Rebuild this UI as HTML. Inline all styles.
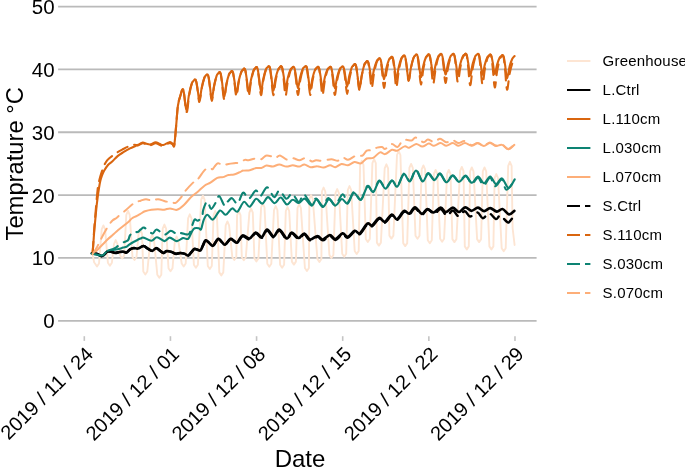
<!DOCTYPE html>
<html><head><meta charset="utf-8"><style>
html,body{margin:0;padding:0;background:#fff;}
body{width:685px;height:467px;overflow:hidden;}
svg{display:block;will-change:transform;font-family:"Liberation Sans", sans-serif;}
</style></head><body>
<svg width="685" height="467" viewBox="0 0 685 467">
<rect width="685" height="467" fill="#fff"/>
<line x1="58.1" x2="536.6" y1="320.80" y2="320.80" stroke="#bababa" stroke-width="1.8"/>
<line x1="58.1" x2="536.6" y1="257.95" y2="257.95" stroke="#bababa" stroke-width="1.8"/>
<line x1="58.1" x2="536.6" y1="195.10" y2="195.10" stroke="#bababa" stroke-width="1.8"/>
<line x1="58.1" x2="536.6" y1="132.25" y2="132.25" stroke="#bababa" stroke-width="1.8"/>
<line x1="58.1" x2="536.6" y1="69.40" y2="69.40" stroke="#bababa" stroke-width="1.8"/>
<line x1="58.1" x2="536.6" y1="6.55" y2="6.55" stroke="#bababa" stroke-width="1.8"/>
<text x="54.6" y="328.25" text-anchor="end" font-size="20.5">0</text>
<text x="54.6" y="265.40" text-anchor="end" font-size="20.5">10</text>
<text x="54.6" y="202.55" text-anchor="end" font-size="20.5">20</text>
<text x="54.6" y="139.70" text-anchor="end" font-size="20.5">30</text>
<text x="54.6" y="76.85" text-anchor="end" font-size="20.5">40</text>
<text x="54.6" y="14.00" text-anchor="end" font-size="20.5">50</text>
<path d="M92.5,254.2 L94.2,262.5 L95.0,263.5 L97.0,266.5 L99.0,263.5 L101.7,229.4 L103.4,225.4 L105.1,229.4 L107.9,262.7 L109.9,265.7 L111.9,262.7 L114.0,244.0 L115.7,240.0 L117.4,244.0 L120.2,255.5 L122.2,258.5 L124.2,255.5 L126.3,214.8 L128.0,210.8 L129.7,214.8 L132.5,257.0 L134.5,260.0 L136.5,257.0 L138.6,233.7 L140.3,229.7 L142.0,233.7 L143.3,271.5 L145.3,274.5 L147.3,271.5 L150.5,238.8 L152.2,234.8 L153.9,238.8 L157.3,274.7 L159.3,277.7 L161.3,274.7 L162.7,228.6 L164.4,224.6 L166.1,228.6 L168.5,268.3 L170.5,271.3 L172.5,268.3 L174.9,240.5 L176.6,236.5 L178.3,240.5 L181.7,263.5 L183.7,266.5 L185.7,263.5 L188.1,218.3 L189.8,214.3 L191.5,218.3 L193.9,264.7 L195.9,267.7 L197.9,264.7 L201.2,199.7 L202.9,195.7 L204.6,199.7 L207.8,266.0 L209.8,269.0 L211.8,266.0 L213.6,215.0 L215.2,211.0 L216.9,215.0 L219.3,272.4 L221.3,275.4 L223.3,272.4 L225.7,225.4 L227.4,221.4 L229.1,225.4 L232.3,257.0 L234.3,260.0 L236.3,257.0 L237.1,215.1 L238.8,211.1 L240.5,215.1 L241.8,257.3 L243.8,260.3 L245.8,257.3 L249.4,212.6 L251.1,208.6 L252.8,212.6 L254.4,258.4 L256.4,261.4 L258.4,258.4 L261.1,207.4 L262.8,203.4 L264.5,207.4 L267.3,263.7 L269.3,266.7 L271.3,263.7 L274.0,210.0 L275.7,206.0 L277.4,210.0 L280.1,264.8 L282.1,267.8 L284.1,264.8 L285.8,211.0 L287.5,207.0 L289.2,211.0 L291.9,261.6 L293.9,264.6 L295.9,261.6 L297.5,208.0 L299.2,204.0 L300.9,208.0 L304.9,268.0 L306.9,271.0 L308.9,268.0 L309.4,199.0 L311.1,195.0 L312.8,199.0 L317.4,259.0 L319.4,262.0 L321.4,259.0 L321.9,191.5 L323.6,187.5 L325.3,191.5 L329.4,255.0 L331.4,258.0 L333.4,255.0 L335.5,193.0 L337.2,189.0 L338.9,193.0 L342.2,253.8 L344.2,256.8 L346.2,253.8 L347.8,190.0 L349.5,186.0 L351.2,190.0 L354.7,251.0 L356.7,254.0 L358.7,251.0 L360.1,164.8 L361.8,160.8 L363.5,164.8 L365.8,239.0 L367.8,242.0 L369.8,239.0 L372.4,163.1 L374.1,159.1 L375.8,163.1 L376.9,242.6 L378.9,245.6 L380.9,242.6 L384.7,168.3 L386.4,164.3 L388.1,168.3 L389.4,235.6 L391.4,238.6 L393.4,235.6 L397.0,155.0 L398.7,151.0 L400.4,155.0 L403.2,243.1 L405.2,246.1 L407.2,243.1 L409.4,167.9 L411.1,163.9 L412.8,167.9 L415.5,235.7 L417.5,238.7 L419.5,235.7 L421.7,169.4 L423.4,165.4 L425.1,169.4 L427.8,240.2 L429.8,243.2 L431.8,240.2 L433.9,173.9 L435.6,169.9 L437.3,173.9 L440.1,238.7 L442.1,241.7 L444.1,238.7 L447.1,173.9 L448.8,169.9 L450.5,173.9 L452.4,239.1 L454.4,242.1 L456.4,239.1 L460.1,170.9 L461.8,166.9 L463.5,170.9 L464.8,246.4 L466.8,249.4 L468.8,246.4 L470.1,171.4 L471.8,167.4 L473.5,171.4 L477.1,239.1 L479.1,242.1 L481.1,239.1 L482.8,171.4 L484.5,167.4 L486.2,171.4 L489.4,246.4 L491.4,249.4 L493.4,246.4 L494.6,178.0 L496.3,174.0 L498.0,178.0 L501.7,248.2 L503.7,251.2 L505.7,248.2 L508.2,165.8 L509.9,161.8 L511.6,165.8 L512.6,228.0 L514.6,245.0" fill="none" stroke="#fde5d3" stroke-width="1.9" stroke-linejoin="round" stroke-linecap="round"/>
<path d="M91.9,253.3C92.7,253.4 95.3,253.4 96.8,253.8C98.3,254.2 99.9,255.8 101.1,256.0C102.3,256.2 102.8,255.8 103.8,255.1C104.8,254.4 106.1,252.2 107.3,251.6C108.5,251.0 109.5,251.4 110.8,251.6C112.1,251.8 113.8,252.8 115.2,252.9C116.7,253.0 118.2,252.2 119.5,252.0C120.8,251.8 121.8,251.5 123.0,251.6C124.2,251.7 125.3,252.9 126.5,252.5C127.7,252.1 128.8,250.1 130.0,249.4C131.2,248.7 132.2,248.2 133.5,248.1C134.8,247.9 136.2,248.8 137.9,248.5C139.6,248.2 141.8,245.9 143.5,246.0C145.2,246.1 146.5,248.0 148.0,248.8C149.5,249.6 150.9,250.9 152.3,250.8C153.7,250.7 154.9,248.1 156.2,248.1C157.5,248.1 158.9,250.0 160.1,250.8C161.3,251.6 162.6,252.9 163.6,253.0C164.6,253.1 165.1,251.4 166.3,251.2C167.5,251.0 169.1,251.2 170.7,251.6C172.3,252.0 174.3,253.6 175.9,253.8C177.5,254.0 178.8,253.0 180.3,253.0C181.8,253.0 183.4,253.4 184.7,253.8C186.0,254.2 187.1,255.9 188.2,255.6C189.3,255.3 190.5,253.1 191.5,252.0C192.5,250.9 193.4,249.4 194.3,249.0C195.2,248.6 196.0,249.3 197.0,249.5C198.0,249.7 199.5,251.1 200.5,250.4C201.5,249.7 202.2,246.8 203.1,245.1C204.0,243.4 204.6,240.5 205.8,240.3C207.0,240.1 208.9,242.9 210.1,243.8C211.3,244.7 211.9,246.4 213.2,245.6C214.5,244.8 216.6,239.7 218.0,239.0C219.4,238.3 220.3,240.7 221.5,241.6C222.7,242.5 223.5,245.1 225.0,244.7C226.5,244.3 228.8,239.7 230.3,239.0C231.8,238.3 232.6,240.2 233.8,240.8C235.0,241.4 235.8,243.4 237.3,242.5C238.8,241.6 240.6,236.2 242.6,235.5C244.6,234.8 247.3,239.0 249.5,238.5C251.7,238.0 253.6,232.8 255.7,232.5C257.8,232.2 259.9,237.5 261.8,237.0C263.7,236.5 265.1,229.7 267.1,229.6C269.1,229.5 271.6,236.5 273.6,236.5C275.6,236.5 277.1,229.3 279.3,229.6C281.5,229.9 284.8,238.0 286.8,238.5C288.9,239.0 289.6,232.6 291.6,232.5C293.6,232.4 296.5,237.8 298.6,238.0C300.7,238.2 302.4,233.2 304.3,233.5C306.2,233.8 307.9,239.1 310.1,239.5C312.3,239.9 315.4,236.0 317.5,236.0C319.6,236.0 320.8,239.7 322.8,239.5C324.9,239.3 327.7,235.2 329.8,235.1C331.9,235.0 333.4,239.4 335.5,239.1C337.6,238.8 340.5,233.8 342.5,233.4C344.5,233.0 345.7,237.3 347.7,236.9C349.7,236.5 352.7,231.4 354.7,230.8C356.7,230.2 357.7,234.5 359.8,233.3C361.9,232.1 365.2,224.9 367.3,223.6C369.4,222.3 370.1,226.3 372.1,225.4C374.1,224.5 377.0,218.6 379.1,218.0C381.2,217.4 382.7,222.5 384.8,221.9C386.9,221.3 389.8,214.9 391.8,214.5C393.8,214.1 395.0,219.8 397.0,219.2C399.0,218.6 401.9,211.9 404.0,211.0C406.1,210.1 407.5,214.2 409.3,213.6C411.1,213.0 412.9,207.3 415.0,207.3C417.1,207.3 419.7,213.5 421.8,213.8C423.9,214.1 425.5,209.2 427.5,209.0C429.5,208.8 431.4,212.7 433.6,212.5C435.8,212.3 438.6,207.8 440.7,207.7C442.8,207.6 443.9,212.1 445.9,212.1C447.9,212.1 450.7,207.7 452.9,207.7C455.1,207.7 456.9,212.1 459.0,212.0C461.1,211.9 463.1,207.5 465.2,207.3C467.3,207.1 469.3,210.7 471.4,210.8C473.5,210.9 475.9,207.6 478.0,207.7C480.1,207.8 482.1,211.1 484.1,211.2C486.1,211.3 488.1,208.0 490.2,208.1C492.3,208.2 494.8,211.4 496.8,211.6C498.9,211.8 500.5,208.6 502.5,209.0C504.5,209.4 507.0,214.0 509.0,214.3C511.0,214.6 513.4,211.4 514.3,210.8" fill="none" stroke="#000000" stroke-width="2.7" stroke-linejoin="round" stroke-linecap="round"/>
<path d="M92.6,252.9C92.8,250.8 93.3,244.2 93.6,240.0C93.9,235.8 94.2,231.4 94.5,228.0C94.8,224.6 95.0,223.0 95.3,219.5C95.6,216.0 96.1,210.9 96.5,207.0C96.9,203.1 97.4,199.5 97.8,196.3C98.2,193.1 98.6,190.5 99.0,188.0C99.4,185.5 99.8,183.2 100.3,181.1C100.8,179.0 101.4,177.2 102.0,175.5C102.6,173.8 103.1,172.6 104.1,170.8C105.1,169.1 106.6,166.6 108.0,165.0C109.4,163.4 110.9,162.7 112.5,161.2C114.1,159.7 115.8,157.6 117.6,156.1C119.4,154.6 121.3,153.5 123.4,152.2C125.5,150.9 128.1,149.4 130.0,148.4C131.9,147.4 133.6,146.8 135.0,146.2C136.4,145.6 137.1,145.4 138.4,144.8C139.7,144.2 141.3,142.8 142.7,142.6C144.0,142.4 145.2,143.5 146.5,143.8C147.8,144.1 148.9,144.7 150.4,144.4C151.9,144.1 154.1,142.3 155.6,142.2C157.1,142.1 158.2,143.3 159.5,143.8C160.8,144.3 161.7,145.3 163.3,145.0C164.9,144.7 167.8,142.4 169.3,142.2C170.8,141.9 171.7,143.1 172.5,143.5C173.3,143.9 173.7,147.4 174.3,144.6C174.9,141.8 175.5,132.8 176.1,126.4C176.7,120.0 177.2,111.0 177.9,105.9C178.6,100.8 179.5,98.3 180.4,95.6C181.3,92.9 182.3,87.2 183.3,89.6C184.3,92.0 185.5,109.2 186.4,110.0C187.3,110.8 188.1,99.1 189.0,94.7C189.8,90.2 190.9,85.9 191.7,83.6C192.5,81.3 193.1,81.6 193.6,80.8C194.2,80.1 194.5,79.3 194.9,79.3C195.4,79.3 195.7,79.4 196.1,81.0C196.6,82.5 197.0,85.4 197.5,88.6C198.1,91.8 198.7,100.3 199.4,100.0C200.2,99.7 201.0,90.8 201.8,87.1C202.6,83.4 203.6,79.7 204.3,77.8C205.0,75.9 205.5,76.1 205.9,75.5C206.4,74.9 206.8,74.1 207.2,74.2C207.7,74.3 208.0,74.3 208.4,76.2C208.9,78.0 209.3,81.6 209.8,85.4C210.4,89.2 211.0,99.0 211.8,99.0C212.5,99.0 213.3,89.4 214.1,85.5C214.9,81.6 215.9,77.8 216.6,75.8C217.3,73.8 217.8,74.0 218.3,73.3C218.7,72.7 219.1,71.9 219.6,72.0C220.0,72.1 220.3,72.1 220.8,74.0C221.2,75.9 221.6,79.4 222.2,83.2C222.7,87.1 223.3,96.9 224.1,97.0C224.8,97.1 225.6,87.7 226.4,84.0C227.2,80.3 228.2,76.6 228.9,74.6C229.6,72.7 230.1,72.9 230.6,72.3C231.1,71.7 231.4,70.9 231.9,71.0C232.3,71.1 232.6,71.1 233.1,72.8C233.5,74.5 233.9,77.7 234.5,81.2C235.0,84.6 235.7,93.6 236.4,93.6C237.1,93.6 237.9,84.7 238.7,81.1C239.5,77.5 240.5,74.0 241.2,72.1C241.9,70.2 242.4,70.4 242.9,69.8C243.4,69.3 243.7,68.5 244.2,68.6C244.6,68.7 244.9,68.7 245.4,70.5C245.8,72.3 246.2,75.7 246.8,79.4C247.3,83.0 248.0,92.4 248.7,92.5C249.4,92.6 250.2,83.4 251.0,79.8C251.8,76.1 252.8,72.5 253.5,70.6C254.2,68.7 254.7,68.9 255.2,68.3C255.7,67.7 256.1,66.9 256.5,67.0C256.9,67.1 257.2,67.1 257.7,69.0C258.1,70.8 258.5,74.2 259.1,78.0C259.6,81.7 260.3,91.3 261.0,91.4C261.7,91.5 262.5,82.3 263.3,78.7C264.1,75.1 265.1,71.5 265.8,69.6C266.5,67.7 267.0,67.9 267.5,67.3C268.0,66.7 268.4,65.9 268.8,66.0C269.2,66.1 269.5,66.1 270.0,68.0C270.4,69.8 270.8,73.2 271.4,77.0C271.9,80.7 272.6,90.2 273.3,90.4C274.0,90.6 274.8,81.8 275.6,78.3C276.4,74.8 277.4,71.4 278.1,69.6C278.8,67.8 279.3,68.0 279.8,67.4C280.3,66.8 280.7,66.1 281.1,66.2C281.5,66.3 281.8,66.3 282.3,68.0C282.7,69.6 283.1,72.7 283.7,76.1C284.2,79.5 284.9,88.0 285.6,88.2C286.3,88.4 287.1,80.5 287.9,77.5C288.7,74.4 289.7,71.3 290.4,69.7C291.1,68.1 291.6,68.3 292.1,67.8C292.6,67.3 293.0,66.6 293.4,66.7C293.8,66.8 294.2,66.8 294.6,68.4C295.0,70.0 295.4,73.1 296.0,76.4C296.5,79.7 297.2,88.1 297.9,88.2C298.6,88.3 299.4,80.3 300.2,77.1C301.0,73.9 302.0,70.8 302.7,69.1C303.4,67.4 303.9,67.6 304.4,67.1C304.9,66.6 305.3,65.9 305.7,66.0C306.1,66.1 306.5,66.1 306.9,67.9C307.3,69.7 307.7,73.0 308.3,76.6C308.8,80.2 309.5,89.3 310.2,89.6C310.9,89.9 311.7,81.4 312.5,78.2C313.3,74.9 314.3,71.6 315.0,69.9C315.7,68.2 316.2,68.4 316.7,67.8C317.2,67.3 317.6,66.6 318.0,66.7C318.4,66.8 318.8,66.8 319.2,68.4C319.6,70.0 320.0,73.1 320.6,76.4C321.1,79.7 321.8,88.0 322.5,88.2C323.2,88.4 324.0,80.5 324.8,77.5C325.6,74.4 326.6,71.3 327.3,69.7C328.0,68.1 328.5,68.3 329.0,67.8C329.5,67.3 329.9,66.6 330.3,66.7C330.7,66.8 331.1,66.8 331.5,68.4C331.9,70.0 332.3,73.1 332.9,76.4C333.4,79.7 334.1,88.1 334.8,88.2C335.5,88.3 336.3,80.4 337.1,77.2C337.9,74.1 338.9,71.0 339.6,69.4C340.3,67.7 340.8,67.9 341.3,67.4C341.8,66.9 342.2,66.2 342.6,66.3C343.0,66.4 343.4,66.4 343.8,67.9C344.2,69.5 344.7,72.4 345.2,75.5C345.8,78.6 346.4,86.7 347.1,86.7C347.8,86.7 348.6,78.6 349.4,75.3C350.3,72.1 351.3,68.9 351.9,67.2C352.6,65.5 353.1,65.7 353.6,65.1C354.1,64.6 354.5,63.8 354.9,64.0C355.3,64.2 355.7,64.1 356.1,66.0C356.5,68.0 357.0,71.6 357.5,75.5C358.1,79.4 358.7,89.5 359.4,89.5C360.1,89.5 360.9,79.3 361.8,75.2C362.6,71.2 363.6,67.1 364.2,65.0C364.9,62.9 365.4,63.1 365.9,62.4C366.4,61.8 366.8,61.0 367.2,61.0C367.6,61.0 368.0,61.1 368.4,62.5C368.8,63.9 369.3,66.6 369.8,69.5C370.4,72.5 371.0,80.1 371.7,80.0C372.4,79.9 373.2,72.2 374.1,69.1C374.9,66.0 375.9,62.9 376.6,61.3C377.2,59.6 377.7,59.8 378.2,59.3C378.7,58.8 379.1,58.1 379.5,58.2C379.9,58.3 380.3,58.3 380.7,59.9C381.2,61.5 381.6,64.5 382.1,67.7C382.7,70.9 383.3,79.2 384.0,79.3C384.7,79.4 385.6,71.3 386.4,68.0C387.2,64.8 388.2,61.6 388.9,59.9C389.6,58.3 390.0,58.4 390.5,57.9C391.0,57.4 391.4,56.7 391.8,56.8C392.2,56.9 392.6,56.9 393.0,58.6C393.5,60.3 393.9,63.5 394.4,66.9C395.0,70.4 395.6,79.2 396.3,79.3C397.0,79.4 397.9,70.7 398.7,67.2C399.5,63.8 400.5,60.4 401.2,58.6C401.9,56.8 402.3,57.0 402.8,56.4C403.3,55.8 403.7,55.1 404.1,55.2C404.5,55.3 404.9,55.3 405.3,57.2C405.8,59.1 406.2,62.7 406.7,66.6C407.3,70.5 407.9,80.4 408.6,80.5C409.3,80.6 410.2,71.2 411.0,67.4C411.8,63.6 412.8,59.9 413.5,58.0C414.2,56.0 414.6,56.2 415.1,55.6C415.6,55.0 416.0,54.2 416.4,54.3C416.9,54.4 417.2,54.4 417.6,56.1C418.1,57.8 418.5,61.1 419.0,64.6C419.6,68.1 420.2,77.0 420.9,77.2C421.6,77.4 422.5,69.0 423.3,65.8C424.1,62.5 425.1,59.2 425.8,57.5C426.5,55.8 426.9,56.0 427.4,55.4C427.9,54.9 428.3,54.2 428.7,54.3C429.2,54.4 429.5,54.4 429.9,56.0C430.4,57.6 430.8,60.7 431.3,64.0C431.9,67.3 432.5,75.7 433.2,75.8C433.9,75.9 434.8,68.0 435.6,64.8C436.4,61.6 437.4,58.5 438.1,56.9C438.8,55.2 439.3,55.4 439.7,54.9C440.2,54.4 440.6,53.7 441.0,53.8C441.5,53.9 441.8,53.9 442.2,55.5C442.7,57.0 443.1,59.9 443.6,63.1C444.2,66.3 444.8,74.3 445.5,74.5C446.3,74.7 447.1,67.1 447.9,64.2C448.7,61.2 449.7,58.3 450.4,56.7C451.1,55.1 451.6,55.3 452.0,54.8C452.5,54.4 452.9,53.7 453.3,53.8C453.8,53.9 454.1,53.9 454.5,55.5C455.0,57.0 455.4,60.0 455.9,63.2C456.5,66.4 457.1,74.5 457.8,74.7C458.6,74.9 459.4,67.2 460.2,64.2C461.0,61.2 462.0,58.2 462.7,56.6C463.4,55.1 463.9,55.2 464.4,54.8C464.8,54.3 465.2,53.6 465.7,53.7C466.1,53.8 466.4,53.8 466.9,55.4C467.3,57.1 467.7,60.2 468.3,63.5C468.8,66.9 469.4,75.3 470.2,75.5C470.9,75.7 471.7,67.7 472.5,64.6C473.3,61.5 474.3,58.4 475.0,56.8C475.7,55.1 476.2,55.3 476.7,54.8C477.2,54.3 477.5,53.6 478.0,53.7C478.4,53.8 478.7,53.8 479.2,55.4C479.6,57.0 480.0,59.9 480.6,63.2C481.1,66.4 481.8,74.5 482.5,74.7C483.2,74.9 484.0,67.5 484.8,64.6C485.6,61.7 486.6,58.8 487.3,57.3C488.0,55.8 488.5,56.0 489.0,55.5C489.5,55.0 489.8,54.4 490.3,54.5C490.7,54.6 491.0,54.6 491.5,56.1C491.9,57.5 492.3,60.3 492.9,63.3C493.4,66.3 494.1,73.8 494.8,74.0C495.5,74.2 496.3,67.3 497.1,64.6C497.9,61.9 498.9,59.2 499.6,57.8C500.3,56.4 500.8,56.6 501.3,56.1C501.8,55.7 502.2,55.0 502.6,55.2C503.0,55.4 503.3,55.3 503.8,57.1C504.2,58.8 504.6,62.1 505.2,65.7C505.7,69.3 506.3,78.4 507.1,78.5C507.8,78.6 508.8,69.4 509.7,66.1C510.6,62.8 511.5,60.4 512.3,58.7C513.2,57.0 514.2,56.5 514.6,56.0" fill="none" stroke="#d9650f" stroke-width="2.1" stroke-linejoin="round" stroke-linecap="round"/>
<path d="M91.9,253.8C92.7,253.9 95.1,254.2 96.8,254.6C98.5,255.0 100.5,256.4 102.0,256.0C103.5,255.7 104.3,253.4 105.5,252.5C106.7,251.6 107.5,251.1 109.0,250.7C110.5,250.2 112.7,250.1 114.3,249.8C115.9,249.5 117.2,249.4 118.7,249.0C120.2,248.6 121.7,248.0 123.0,247.6C124.3,247.2 125.5,247.3 126.5,246.8C127.5,246.3 128.0,245.4 129.2,244.6C130.4,243.8 132.2,242.7 133.5,242.0C134.8,241.3 135.8,240.8 137.0,240.2C138.2,239.6 139.4,239.0 140.5,238.6C141.6,238.2 141.7,237.2 143.5,237.6C145.3,237.9 149.2,240.8 151.4,240.7C153.7,240.6 154.8,237.1 157.0,237.2C159.2,237.3 162.4,241.0 164.5,241.1C166.6,241.2 167.8,237.6 169.8,237.6C171.9,237.6 174.6,241.0 176.8,241.1C179.0,241.2 181.0,238.5 182.9,238.1C184.8,237.7 186.7,239.9 188.2,238.8C189.7,237.7 190.9,233.2 192.0,231.4C193.1,229.6 193.4,228.7 194.6,228.2C195.8,227.7 197.8,228.0 198.9,228.2C200.0,228.4 200.3,230.7 201.1,229.3C201.9,227.9 202.7,222.0 203.8,219.6C204.9,217.2 206.0,214.8 207.5,214.8C209.0,214.8 210.8,220.3 212.9,219.6C215.0,218.9 217.9,211.3 220.0,210.5C222.1,209.7 223.7,215.2 225.7,214.8C227.7,214.5 230.1,208.9 232.1,208.4C234.1,207.9 235.5,212.7 237.5,211.6C239.5,210.5 241.9,202.7 243.9,201.9C245.9,201.1 247.6,207.2 249.6,206.7C251.6,206.2 254.1,199.3 256.2,198.8C258.3,198.3 260.3,203.9 262.3,203.6C264.3,203.3 265.9,197.2 268.0,197.1C270.1,197.0 272.5,203.1 274.6,203.2C276.7,203.3 278.6,197.3 280.7,197.5C282.8,197.7 284.9,204.1 286.9,204.5C288.9,204.9 290.6,199.9 292.6,199.7C294.6,199.4 296.9,203.2 298.9,203.0C300.9,202.8 302.5,198.2 304.6,198.6C306.7,199.0 309.6,205.4 311.6,205.6C313.6,205.8 314.6,199.3 316.5,199.5C318.4,199.7 320.9,207.1 323.0,207.0C325.1,206.9 326.9,199.3 329.0,199.1C331.1,198.9 333.2,205.6 335.3,205.6C337.4,205.6 339.8,199.3 341.8,199.0C343.9,198.7 345.6,204.5 347.6,203.5C349.6,202.5 351.7,193.6 353.9,193.0C356.1,192.4 358.6,201.1 360.9,200.0C363.2,198.9 365.4,187.8 367.5,186.5C369.6,185.2 371.2,193.1 373.2,192.2C375.2,191.3 377.2,181.8 379.3,181.2C381.4,180.6 383.4,188.7 385.5,188.6C387.6,188.5 390.0,181.2 392.0,180.8C394.0,180.5 395.3,187.6 397.3,186.5C399.3,185.4 401.8,175.0 403.9,174.2C406.0,173.4 407.8,182.1 409.8,181.5C411.8,180.9 413.9,170.5 416.0,170.5C418.1,170.5 420.5,181.0 422.5,181.5C424.5,182.0 426.2,173.8 428.2,173.6C430.2,173.4 432.3,180.0 434.3,180.1C436.3,180.2 438.0,173.6 440.0,174.0C442.0,174.4 444.1,182.0 446.2,182.3C448.3,182.6 450.6,175.9 452.7,175.8C454.8,175.7 456.7,181.8 458.9,181.9C461.1,182.0 463.5,176.0 465.7,176.2C467.9,176.3 469.8,182.7 471.8,182.8C473.9,182.9 475.9,176.5 478.0,176.6C480.1,176.7 482.1,183.2 484.1,183.2C486.1,183.2 488.2,176.4 490.2,176.6C492.2,176.8 493.9,183.8 495.9,184.1C497.9,184.4 499.9,177.8 502.0,178.4C504.1,179.1 506.5,187.8 508.6,188.0C510.7,188.2 513.7,180.8 514.7,179.3" fill="none" stroke="#0d8373" stroke-width="2.1" stroke-linejoin="round" stroke-linecap="round"/>
<path d="M92.5,254.2C93.2,253.6 95.2,251.9 96.8,250.4C98.4,248.9 100.3,246.8 102.1,245.0C103.9,243.2 105.7,241.3 107.5,239.6C109.3,237.9 111.1,236.4 112.9,234.8C114.7,233.2 116.4,231.5 118.2,230.0C120.0,228.5 121.8,227.1 123.6,225.7C125.4,224.3 127.5,222.7 128.9,221.4C130.3,220.2 130.8,219.1 132.1,218.2C133.3,217.3 134.9,216.9 136.4,216.1C137.9,215.3 139.6,214.3 141.0,213.5C142.4,212.7 143.3,211.9 145.0,211.3C146.7,210.7 149.3,210.0 151.4,209.7C153.5,209.4 155.7,209.3 157.8,209.3C159.9,209.3 162.2,209.8 164.2,209.7C166.2,209.5 167.9,208.4 170.0,208.4C172.1,208.4 174.7,210.4 177.0,209.8C179.3,209.2 181.6,207.1 183.9,205.0C186.2,202.9 188.6,199.5 190.9,197.3C193.2,195.1 195.5,193.7 197.8,191.7C200.1,189.7 202.7,187.0 204.8,185.5C206.9,184.0 208.3,184.0 210.4,182.7C212.5,181.4 215.2,178.7 217.3,177.8C219.4,176.9 221.1,177.6 222.9,177.1C224.8,176.6 226.6,175.4 228.4,175.0C230.2,174.6 232.1,174.8 234.0,174.4C235.9,174.0 238.0,172.9 239.6,172.3C241.2,171.7 241.7,170.9 243.4,170.6C245.1,170.2 247.7,170.6 249.8,170.2C251.9,169.8 254.3,168.4 256.2,168.0C258.1,167.6 259.6,168.4 261.3,168.0C263.0,167.6 264.6,165.9 266.5,165.6C268.4,165.4 270.8,166.7 272.9,166.5C275.0,166.3 277.1,164.5 279.3,164.5C281.6,164.5 284.1,166.5 286.4,166.6C288.6,166.7 290.6,165.3 292.8,165.3C295.0,165.3 297.4,166.8 299.3,166.6C301.2,166.4 302.5,164.3 304.4,164.4C306.3,164.5 308.7,166.9 310.8,167.2C312.9,167.5 315.1,166.1 317.2,166.2C319.3,166.2 321.5,167.7 323.6,167.5C325.8,167.3 328.2,165.4 330.1,165.3C332.0,165.2 333.3,167.4 335.2,167.2C337.1,167.0 339.5,164.3 341.6,164.0C343.7,163.7 345.9,165.6 348.0,165.3C350.1,165.0 352.4,162.4 354.5,162.1C356.6,161.8 358.9,164.0 360.9,163.4C362.9,162.8 364.7,159.4 366.7,158.5C368.7,157.6 370.9,158.9 373.1,157.9C375.3,156.9 378.0,153.0 380.0,152.4C382.0,151.8 383.1,154.5 385.1,154.1C387.1,153.7 390.0,150.4 392.0,149.8C394.0,149.2 395.0,151.3 397.1,150.7C399.2,150.1 402.6,146.9 404.6,146.4C406.6,145.9 407.2,148.1 409.1,147.7C411.0,147.3 414.0,144.1 416.2,143.9C418.4,143.7 420.2,146.7 422.3,146.6C424.4,146.5 426.9,143.7 428.8,143.6C430.8,143.5 432.0,145.9 434.0,145.8C436.0,145.7 438.6,143.1 440.6,143.1C442.7,143.1 444.3,145.8 446.3,145.8C448.3,145.8 450.8,143.1 452.8,143.1C454.8,143.1 456.5,145.8 458.5,145.8C460.5,145.8 462.8,143.1 465.0,143.1C467.2,143.1 469.4,145.8 471.5,145.8C473.6,145.8 475.6,143.3 477.6,143.3C479.7,143.3 481.8,146.1 483.8,146.0C485.9,145.9 487.9,143.0 489.9,143.0C491.9,143.0 493.9,145.7 495.9,146.0C497.9,146.3 499.9,144.3 502.0,144.9C504.1,145.5 506.2,149.3 508.3,149.3C510.4,149.3 513.3,145.6 514.3,144.9" fill="none" stroke="#fdae78" stroke-width="2.0" stroke-linejoin="round" stroke-linecap="round"/>
<path d="M91.9,253.3C92.7,253.4 95.3,253.4 96.8,253.8C98.3,254.2 99.9,255.8 101.1,256.0C102.3,256.2 102.8,255.8 103.8,255.1C104.8,254.4 106.1,252.2 107.3,251.6C108.5,251.0 109.5,251.4 110.8,251.6C112.1,251.8 113.8,252.8 115.2,252.9C116.7,253.0 118.2,252.2 119.5,252.0C120.8,251.8 121.8,251.5 123.0,251.6C124.2,251.7 125.3,252.9 126.5,252.5C127.7,252.1 128.8,250.1 130.0,249.4C131.2,248.7 132.2,248.2 133.5,248.1C134.8,247.9 136.2,248.8 137.9,248.5C139.6,248.2 141.8,245.9 143.5,246.0C145.2,246.1 146.5,248.0 148.0,248.8C149.5,249.6 150.9,250.9 152.3,250.8C153.7,250.7 154.9,248.1 156.2,248.1C157.5,248.1 158.9,250.0 160.1,250.8C161.3,251.6 162.6,252.9 163.6,253.0C164.6,253.1 165.1,251.4 166.3,251.2C167.5,251.0 169.1,251.2 170.7,251.6C172.3,252.0 174.3,253.6 175.9,253.8C177.5,254.0 178.8,253.0 180.3,253.0C181.8,253.0 183.4,253.4 184.7,253.8C186.0,254.2 187.1,255.9 188.2,255.6C189.3,255.3 190.5,253.1 191.5,252.0C192.5,250.9 193.4,249.4 194.3,249.0C195.2,248.6 196.0,249.3 197.0,249.5C198.0,249.7 199.5,251.1 200.5,250.4C201.5,249.7 202.2,246.8 203.1,245.1C204.0,243.4 204.6,240.5 205.8,240.3C207.0,240.1 208.9,242.9 210.1,243.8C211.3,244.7 211.9,246.4 213.2,245.6C214.5,244.8 216.6,239.7 218.0,239.0C219.4,238.3 220.3,240.7 221.5,241.6C222.7,242.5 223.5,245.1 225.0,244.7C226.5,244.3 228.8,239.7 230.3,239.0C231.8,238.3 232.6,240.2 233.8,240.8C235.0,241.4 235.8,243.2 237.3,242.5C238.8,241.8 240.6,236.9 242.6,236.4C244.6,235.9 247.3,239.9 249.5,239.4C251.7,238.9 253.6,233.7 255.7,233.4C257.8,233.2 259.9,238.4 261.8,237.9C263.7,237.4 265.1,230.6 267.1,230.5C269.1,230.4 271.6,237.4 273.6,237.4C275.6,237.4 277.1,230.2 279.3,230.5C281.5,230.8 284.8,238.9 286.8,239.4C288.9,239.9 289.6,233.5 291.6,233.4C293.6,233.3 296.5,238.7 298.6,238.9C300.7,239.1 302.4,234.2 304.3,234.4C306.2,234.7 307.9,240.0 310.1,240.4C312.3,240.8 315.4,236.9 317.5,236.9C319.6,236.9 320.8,240.6 322.8,240.4C324.9,240.2 327.7,236.1 329.8,236.0C331.9,235.9 333.4,240.3 335.5,240.0C337.6,239.7 340.5,234.7 342.5,234.3C344.5,233.9 345.7,238.2 347.7,237.8C349.7,237.4 352.7,232.3 354.7,231.7C356.7,231.1 357.7,235.4 359.8,234.2C361.9,233.0 365.2,225.8 367.3,224.5C369.4,223.2 370.1,227.2 372.1,226.3C374.1,225.4 377.0,219.5 379.1,218.9C381.2,218.3 382.7,223.4 384.8,222.8C386.9,222.2 389.8,215.9 391.8,215.4C393.8,214.9 395.0,220.7 397.0,220.1C399.0,219.5 401.9,212.8 404.0,211.9C406.1,211.0 407.5,215.1 409.3,214.5C411.1,213.9 412.9,208.2 415.0,208.2C417.1,208.2 419.7,214.5 421.8,214.7C423.9,214.9 425.4,209.7 427.5,209.5C429.6,209.3 432.3,213.9 434.5,213.8C436.7,213.7 438.6,208.7 440.7,209.0C442.8,209.3 444.8,215.3 446.8,215.6C448.8,215.8 451.0,210.4 452.9,210.5C454.8,210.6 456.2,215.9 458.2,216.0C460.2,216.1 462.8,211.1 464.8,211.2C466.8,211.3 468.0,216.3 470.1,216.5C472.2,216.7 475.4,212.2 477.5,212.5C479.6,212.8 480.8,218.0 482.8,218.2C484.8,218.3 487.1,213.2 489.3,213.4C491.5,213.6 494.1,218.7 495.9,219.1C497.7,219.5 498.5,215.2 500.3,215.6C502.1,216.0 505.1,220.4 506.5,221.5C507.9,222.6 507.7,223.2 509.0,222.2C510.3,221.2 513.4,216.7 514.3,215.6" fill="none" stroke="#000000" stroke-width="2.4" stroke-linejoin="round" stroke-linecap="round" stroke-dasharray="11 7"/>
<path d="M92.6,252.9C92.8,250.8 93.2,244.2 93.5,240.0C93.8,235.8 94.0,231.7 94.3,228.0C94.6,224.3 94.8,221.8 95.1,218.0C95.4,214.2 95.8,209.9 96.2,205.0C96.6,200.1 97.2,193.1 97.7,188.8C98.2,184.6 98.9,182.2 99.5,179.5C100.1,176.8 100.8,174.6 101.5,172.5C102.2,170.4 102.8,168.8 103.5,167.0C104.2,165.2 105.1,163.4 106.0,162.0C106.9,160.6 107.8,159.6 109.0,158.5C110.2,157.4 111.7,156.3 113.0,155.3C114.3,154.3 115.5,153.4 117.0,152.5C118.5,151.6 120.3,150.6 122.2,149.6C124.1,148.6 126.6,147.2 128.6,146.4C130.6,145.6 132.4,145.0 134.0,144.8C135.6,144.6 137.0,145.6 138.4,145.3C139.8,145.0 141.3,143.2 142.7,143.1C144.0,143.0 145.2,144.3 146.5,144.7C147.8,145.1 148.9,145.6 150.4,145.3C151.9,145.0 154.1,143.2 155.6,143.1C157.1,143.0 158.2,144.2 159.5,144.7C160.8,145.2 161.7,146.2 163.3,145.9C164.9,145.6 167.8,143.3 169.3,143.1C170.8,142.8 171.7,144.0 172.5,144.4C173.3,144.8 173.7,148.5 174.3,145.5C174.9,142.5 175.5,133.0 176.1,126.4C176.7,119.8 177.2,111.0 177.9,105.9C178.6,100.8 179.5,98.3 180.4,95.6C181.3,92.9 182.3,86.9 183.3,89.6C184.3,92.3 185.6,111.0 186.6,112.0C187.6,113.0 188.2,100.3 189.1,95.7C190.0,91.0 191.0,86.3 191.8,83.9C192.5,81.4 193.1,81.7 193.6,80.9C194.2,80.2 194.5,79.3 194.9,79.3C195.4,79.3 195.7,79.4 196.1,81.1C196.6,82.8 197.0,86.0 197.5,89.5C198.1,93.0 198.7,102.2 199.4,102.0C200.2,101.8 201.0,92.1 201.8,88.1C202.6,84.1 203.6,80.2 204.3,78.1C205.0,76.0 205.5,76.2 205.9,75.6C206.4,74.9 206.8,74.1 207.2,74.2C207.7,74.3 208.0,74.3 208.4,76.3C208.9,78.4 209.3,82.2 209.8,86.3C210.4,90.4 211.0,101.0 211.8,101.0C212.5,101.0 213.3,90.7 214.1,86.5C214.9,82.3 215.9,78.2 216.6,76.1C217.3,73.9 217.8,74.1 218.3,73.5C218.7,72.8 219.1,71.9 219.6,72.0C220.0,72.1 220.3,72.1 220.8,74.2C221.2,76.2 221.6,80.0 222.2,84.2C222.7,88.3 223.3,98.9 224.1,99.0C224.8,99.1 225.6,89.0 226.4,85.0C227.2,81.0 228.2,77.0 228.9,74.9C229.6,72.8 230.1,73.1 230.6,72.4C231.1,71.7 231.4,70.9 231.9,71.0C232.3,71.1 232.6,71.1 233.1,73.0C233.5,74.9 233.9,78.5 234.5,82.4C235.0,86.3 235.7,96.3 236.4,96.3C237.1,96.3 237.9,86.4 238.7,82.4C239.5,78.5 240.5,74.6 241.2,72.5C241.9,70.4 242.4,70.6 242.9,70.0C243.4,69.3 243.7,68.5 244.2,68.6C244.6,68.7 244.9,68.7 245.4,70.8C245.8,72.8 246.2,76.6 246.8,80.8C247.3,85.0 248.0,95.6 248.7,95.7C249.4,95.8 250.2,85.5 251.0,81.3C251.8,77.2 252.8,73.2 253.5,71.0C254.2,68.9 254.7,69.1 255.2,68.4C255.7,67.8 256.1,66.9 256.5,67.0C256.9,67.1 257.2,67.1 257.7,69.3C258.1,71.4 258.5,75.4 259.1,79.7C259.6,84.0 260.3,95.0 261.0,95.2C261.7,95.4 262.5,84.8 263.3,80.6C264.1,76.4 265.1,72.3 265.8,70.1C266.5,67.9 267.0,68.1 267.5,67.5C268.0,66.8 268.4,65.9 268.8,66.0C269.2,66.1 269.5,66.1 270.0,68.3C270.4,70.5 270.8,74.7 271.4,79.1C271.9,83.6 272.6,94.9 273.3,95.2C274.0,95.5 274.8,84.9 275.6,80.7C276.4,76.5 277.4,72.4 278.1,70.3C278.8,68.1 279.3,68.3 279.8,67.7C280.3,67.0 280.7,66.0 281.1,66.2C281.5,66.4 281.8,66.3 282.3,68.6C282.7,70.8 283.1,75.0 283.7,79.5C284.2,84.0 284.9,95.4 285.6,95.7C286.3,96.0 287.1,85.4 287.9,81.2C288.7,77.0 289.7,72.9 290.4,70.8C291.1,68.6 291.6,68.8 292.1,68.2C292.6,67.5 293.0,66.6 293.4,66.7C293.8,66.8 294.2,66.8 294.6,69.0C295.0,71.1 295.4,75.1 296.0,79.4C296.5,83.8 297.2,94.8 297.9,95.0C298.6,95.2 299.4,84.7 300.2,80.5C301.0,76.3 302.0,72.2 302.7,70.1C303.4,67.9 303.9,68.1 304.4,67.5C304.9,66.8 305.3,65.9 305.7,66.0C306.1,66.1 306.5,66.1 306.9,68.3C307.3,70.5 307.7,74.6 308.3,79.0C308.8,83.5 309.5,94.7 310.2,95.0C310.9,95.3 311.7,84.9 312.5,80.8C313.3,76.8 314.3,72.8 315.0,70.7C315.7,68.5 316.2,68.8 316.7,68.1C317.2,67.5 317.6,66.6 318.0,66.7C318.4,66.8 318.8,66.8 319.2,69.0C319.6,71.1 320.0,75.1 320.6,79.4C321.1,83.8 321.8,94.8 322.5,95.0C323.2,95.2 324.0,84.9 324.8,80.8C325.6,76.8 326.6,72.8 327.3,70.7C328.0,68.5 328.5,68.8 329.0,68.1C329.5,67.5 329.9,66.6 330.3,66.7C330.7,66.8 331.1,66.8 331.5,69.0C331.9,71.1 332.3,75.1 332.9,79.4C333.4,83.8 334.1,94.8 334.8,95.0C335.5,95.2 336.3,84.8 337.1,80.7C337.9,76.5 338.9,72.5 339.6,70.3C340.3,68.2 340.8,68.4 341.3,67.7C341.8,67.1 342.2,66.2 342.6,66.3C343.0,66.4 343.4,66.4 343.8,68.5C344.2,70.6 344.7,74.5 345.2,78.8C345.8,83.0 346.4,94.0 347.1,94.0C347.8,94.0 348.6,83.3 349.4,79.0C350.3,74.7 351.3,70.5 351.9,68.2C352.6,66.0 353.1,66.2 353.6,65.5C354.1,64.8 354.5,63.9 354.9,64.0C355.3,64.1 355.7,64.1 356.1,66.1C356.5,68.0 357.0,71.7 357.5,75.7C358.1,79.7 358.7,90.0 359.4,90.0C360.1,90.0 360.9,79.7 361.8,75.5C362.6,71.3 363.6,67.2 364.2,65.1C364.9,62.9 365.4,63.1 365.9,62.5C366.4,61.8 366.8,60.9 367.2,61.0C367.6,61.1 368.0,61.1 368.4,63.2C368.8,65.2 369.3,69.0 369.8,73.2C370.4,77.3 371.0,88.0 371.7,88.0C372.4,88.0 373.2,77.4 374.1,73.1C374.9,68.8 375.9,64.6 376.6,62.4C377.2,60.1 377.7,60.4 378.2,59.7C378.7,59.0 379.1,58.1 379.5,58.2C379.9,58.3 380.3,58.3 380.7,60.6C381.2,62.8 381.6,67.0 382.1,71.6C382.7,76.2 383.3,87.9 384.0,88.0C384.7,88.1 385.6,76.9 386.4,72.4C387.2,67.9 388.2,63.5 388.9,61.2C389.6,58.8 390.0,59.1 390.5,58.4C391.0,57.6 391.4,56.7 391.8,56.8C392.2,56.9 392.6,57.0 393.0,59.2C393.5,61.5 393.9,65.8 394.4,70.5C395.0,75.2 395.6,87.2 396.3,87.3C397.0,87.4 397.9,75.9 398.7,71.2C399.5,66.6 400.5,62.1 401.2,59.7C401.9,57.3 402.3,57.6 402.8,56.8C403.3,56.1 403.7,55.1 404.1,55.2C404.5,55.3 404.9,55.3 405.3,57.3C405.8,59.2 406.2,62.9 406.7,66.8C407.3,70.8 407.9,80.9 408.6,81.0C409.3,81.1 410.2,71.5 411.0,67.7C411.8,63.8 412.8,60.0 413.5,58.0C414.2,56.0 414.6,56.3 415.1,55.6C415.6,55.0 416.0,54.1 416.4,54.3C416.9,54.5 417.2,54.5 417.6,56.7C418.1,59.0 418.5,63.3 419.0,67.9C419.6,72.5 420.2,84.2 420.9,84.5C421.6,84.8 422.5,73.7 423.3,69.4C424.1,65.1 425.1,60.8 425.8,58.5C426.5,56.3 426.9,56.5 427.4,55.8C427.9,55.1 428.3,54.2 428.7,54.3C429.2,54.4 429.5,54.4 429.9,56.7C430.4,58.9 430.8,63.1 431.3,67.6C431.9,72.1 432.5,83.6 433.2,83.8C433.9,84.0 434.8,73.1 435.6,68.8C436.4,64.5 437.4,60.2 438.1,58.0C438.8,55.8 439.3,56.0 439.7,55.3C440.2,54.6 440.6,53.7 441.0,53.8C441.5,53.9 441.8,53.9 442.2,56.1C442.7,58.3 443.1,62.5 443.6,66.9C444.2,71.4 444.8,82.8 445.5,83.0C446.3,83.2 447.1,72.6 447.9,68.4C448.7,64.2 449.7,60.1 450.4,57.9C451.1,55.7 451.6,55.9 452.0,55.3C452.5,54.6 452.9,53.7 453.3,53.8C453.8,53.9 454.1,53.9 454.5,56.1C455.0,58.2 455.4,62.2 455.9,66.6C456.5,70.9 457.1,82.0 457.8,82.2C458.6,82.4 459.4,72.0 460.2,68.0C461.0,63.9 462.0,59.8 462.7,57.7C463.4,55.6 463.9,55.8 464.4,55.1C464.8,54.5 465.2,53.5 465.7,53.7C466.1,53.9 466.4,53.9 466.9,56.2C467.3,58.6 467.7,63.0 468.3,67.9C468.8,72.7 469.4,84.9 470.2,85.2C470.9,85.5 471.7,74.0 472.5,69.5C473.3,64.9 474.3,60.5 475.0,58.1C475.7,55.7 476.2,56.0 476.7,55.3C477.2,54.5 477.5,53.6 478.0,53.7C478.4,53.8 478.7,53.9 479.2,56.2C479.6,58.5 480.0,62.8 480.6,67.6C481.1,72.3 481.8,84.2 482.5,84.5C483.2,84.8 484.0,73.8 484.8,69.5C485.6,65.2 486.6,61.0 487.3,58.7C488.0,56.5 488.5,56.7 489.0,56.0C489.5,55.3 489.8,54.3 490.3,54.5C490.7,54.7 491.0,54.7 491.5,57.1C491.9,59.6 492.3,64.3 492.9,69.3C493.4,74.4 494.1,87.2 494.8,87.5C495.5,87.8 496.3,76.0 497.1,71.3C497.9,66.7 498.9,62.1 499.6,59.7C500.3,57.3 500.8,57.6 501.3,56.8C501.8,56.1 502.2,55.0 502.6,55.2C503.0,55.4 503.3,55.4 503.8,58.0C504.2,60.5 504.6,65.4 505.2,70.7C505.7,76.0 506.3,89.3 507.1,89.7C507.8,90.1 508.8,77.6 509.7,73.2C510.6,68.8 511.5,65.6 512.3,63.3C513.2,61.1 514.2,60.3 514.6,59.7" fill="none" stroke="#d9650f" stroke-width="2.1" stroke-linejoin="round" stroke-linecap="round" stroke-dasharray="11 7"/>
<path d="M91.9,253.8C92.7,253.9 95.1,254.3 96.8,254.6C98.5,254.9 100.5,255.9 102.0,255.5C103.5,255.1 104.3,252.9 105.5,252.0C106.7,251.1 107.5,250.9 109.0,250.3C110.5,249.7 113.0,249.1 114.3,248.5C115.6,247.9 115.7,247.7 116.9,246.8C118.1,245.9 119.8,244.2 121.3,243.3C122.8,242.4 124.5,242.1 125.7,241.5C126.9,240.9 127.6,240.8 128.3,239.8C129.0,238.8 129.1,236.8 130.0,235.4C130.9,234.0 132.6,232.2 133.8,231.6C135.1,231.0 136.3,232.4 137.5,232.1C138.7,231.8 139.6,230.2 140.7,229.5C141.8,228.8 142.5,227.3 143.9,227.6C145.3,227.9 147.5,230.5 149.0,231.5C150.5,232.5 151.5,233.7 152.8,233.4C154.1,233.1 154.8,229.3 156.7,229.5C158.6,229.7 162.1,234.5 164.4,234.7C166.8,234.9 168.7,230.9 170.8,230.8C172.9,230.8 175.5,234.0 177.2,234.4C178.9,234.8 179.6,233.1 181.1,233.1C182.6,233.1 184.8,234.3 186.2,234.4C187.6,234.5 188.3,235.0 189.3,233.6C190.3,232.2 191.1,228.4 192.0,226.1C192.9,223.8 193.6,220.5 194.6,219.6C195.6,218.7 196.7,221.2 197.9,220.7C199.2,220.2 201.2,218.2 202.1,216.4C203.0,214.6 202.5,212.4 203.2,210.0C203.9,207.6 205.5,203.1 206.4,202.0C207.3,200.9 207.8,202.4 208.6,203.6C209.4,204.8 210.1,209.2 211.3,208.9C212.6,208.6 214.8,204.1 216.1,202.0C217.4,199.9 217.9,195.5 219.3,196.1C220.7,196.7 223.2,204.8 224.6,205.7C226.0,206.6 226.7,202.7 227.9,201.4C229.2,200.2 230.5,197.8 232.1,198.2C233.7,198.6 235.7,204.5 237.5,203.6C239.3,202.7 241.2,193.5 243.1,192.7C245.0,191.9 246.7,199.2 248.8,198.8C250.9,198.4 253.9,191.0 255.8,190.5C257.8,190.0 258.6,196.5 260.5,196.0C262.4,195.5 264.9,187.2 267.2,187.4C269.5,187.6 272.1,196.6 274.2,197.1C276.2,197.6 277.5,190.2 279.5,190.5C281.5,190.8 284.3,198.3 286.4,198.8C288.5,199.3 290.0,193.1 292.1,193.6C294.2,194.1 296.9,201.9 298.9,202.0C300.8,202.1 301.7,193.9 303.8,194.3C305.9,194.7 309.6,203.9 311.6,204.6C313.6,205.3 314.1,198.3 316.0,198.5C317.9,198.7 320.9,206.1 323.0,206.0C325.1,205.9 326.2,198.3 328.3,198.1C330.4,197.9 332.9,205.2 335.3,204.6C337.7,204.0 340.6,194.7 342.7,194.3C344.8,194.0 345.7,202.9 347.6,202.5C349.5,202.1 351.7,192.5 353.9,192.0C356.1,191.5 358.6,200.4 360.9,199.4C363.2,198.4 365.4,187.2 367.5,185.9C369.6,184.6 371.2,192.5 373.2,191.6C375.2,190.7 377.2,181.2 379.3,180.6C381.4,180.0 383.4,188.1 385.5,188.0C387.6,187.9 390.0,180.6 392.0,180.2C394.0,179.9 395.3,187.0 397.3,185.9C399.3,184.8 401.8,174.4 403.9,173.6C406.0,172.8 407.8,181.5 409.8,180.9C411.8,180.3 413.9,169.9 416.0,169.9C418.1,169.9 420.5,180.4 422.5,180.9C424.5,181.4 426.2,173.2 428.2,173.0C430.2,172.8 432.3,179.4 434.3,179.5C436.3,179.6 438.0,173.0 440.0,173.4C442.0,173.8 444.1,181.4 446.2,181.7C448.3,182.0 450.6,175.3 452.7,175.2C454.8,175.1 456.7,181.2 458.9,181.3C461.1,181.4 463.5,175.2 465.7,175.6C467.9,176.0 469.8,183.5 471.8,183.8C473.9,184.1 476.0,177.3 478.0,177.6C480.0,177.9 481.6,185.4 483.6,185.4C485.6,185.4 488.3,177.4 490.2,177.6C492.1,177.8 493.0,186.0 495.0,186.3C497.0,186.6 500.1,178.8 502.0,179.4C503.9,180.0 504.3,189.7 506.4,189.8C508.5,189.9 513.3,181.6 514.7,180.0" fill="none" stroke="#0d8373" stroke-width="2.1" stroke-linejoin="round" stroke-linecap="round" stroke-dasharray="11 7"/>
<path d="M92.5,254.2C93.2,253.2 95.2,250.2 96.5,248.0C97.8,245.8 98.7,243.5 100.0,241.0C101.3,238.5 102.9,235.4 104.3,232.8C105.7,230.2 107.2,227.6 108.6,225.5C110.0,223.4 111.2,221.7 112.5,220.5C113.8,219.3 115.0,219.0 116.1,218.2C117.2,217.4 117.7,216.8 119.3,215.5C120.9,214.2 123.6,212.1 125.7,210.3C127.8,208.5 130.3,205.9 132.1,204.5C133.9,203.1 135.1,202.6 136.5,202.0C137.9,201.4 139.1,201.2 140.7,200.7C142.3,200.2 144.1,199.2 146.0,199.2C147.9,199.2 150.0,200.7 152.0,200.7C154.0,200.7 155.8,199.1 158.0,199.2C160.2,199.3 163.2,200.9 165.5,201.4C167.8,201.9 170.4,201.9 172.1,202.2C173.8,202.4 174.1,203.7 175.6,202.9C177.1,202.1 179.5,199.3 181.1,197.3C182.7,195.3 183.4,193.3 185.3,191.0C187.2,188.7 190.2,185.4 192.3,183.4C194.4,181.4 196.0,181.2 197.8,179.2C199.7,177.2 201.9,173.4 203.4,171.6C204.9,169.8 205.8,169.1 207.0,168.5C208.2,167.9 209.5,168.0 210.4,168.1C211.3,168.2 211.8,169.5 212.5,169.3C213.2,169.1 213.6,167.7 214.5,166.7C215.4,165.7 216.6,163.4 218.0,163.2C219.4,163.0 221.2,165.2 222.9,165.3C224.6,165.4 226.6,164.2 228.4,163.9C230.2,163.6 232.1,163.4 234.0,163.2C235.9,163.0 237.8,163.1 239.6,162.5C241.4,161.9 243.2,160.3 244.7,159.9C246.2,159.5 246.8,160.5 248.5,160.3C250.2,160.1 252.8,158.8 254.9,158.6C257.0,158.4 259.5,159.8 261.3,159.3C263.1,158.8 264.1,156.2 265.8,155.7C267.5,155.2 270.0,156.0 271.6,156.4C273.2,156.8 274.1,158.2 275.5,158.0C276.9,157.8 278.2,155.2 280.0,155.4C281.8,155.7 284.3,159.0 286.4,159.5C288.5,160.0 290.6,158.1 292.8,158.2C295.0,158.3 297.2,160.2 299.3,160.2C301.4,160.2 303.6,157.8 305.7,158.0C307.8,158.2 310.4,161.1 312.1,161.5C313.8,161.9 314.3,160.3 316.0,160.2C317.7,160.1 319.8,161.0 322.4,160.8C324.9,160.7 328.7,159.3 331.3,159.3C333.9,159.3 335.9,161.1 337.8,160.8C339.7,160.5 341.2,157.8 342.9,157.6C344.6,157.4 346.1,160.0 348.0,159.8C349.9,159.6 352.9,157.0 354.5,156.3C356.1,155.7 356.3,156.1 357.7,155.9C359.1,155.7 361.3,156.2 362.8,155.3C364.3,154.4 365.2,151.4 366.7,150.6C368.2,149.8 370.1,150.7 371.8,150.2C373.5,149.7 375.3,148.1 377.0,147.6C378.7,147.1 380.7,146.8 382.1,147.0C383.5,147.2 383.7,149.4 385.3,148.9C386.9,148.4 389.7,144.4 391.7,144.1C393.7,143.8 395.9,147.3 397.5,147.0C399.1,146.7 399.9,143.7 401.3,142.5C402.7,141.3 404.1,140.2 405.8,139.9C407.5,139.6 409.9,140.9 411.6,140.5C413.3,140.1 413.8,137.3 415.8,137.6C417.8,137.9 421.5,142.0 423.5,142.3C425.5,142.6 426.1,139.7 427.8,139.6C429.6,139.5 431.9,142.0 434.0,141.9C436.1,141.8 438.1,138.7 440.1,138.8C442.2,138.9 444.2,142.1 446.3,142.3C448.4,142.5 450.4,140.0 452.4,140.1C454.4,140.2 456.5,142.9 458.5,143.1C460.5,143.2 462.4,140.7 464.6,141.0C466.8,141.3 469.3,144.9 471.5,145.2C473.7,145.5 475.6,142.8 477.6,142.9C479.7,143.0 481.8,145.7 483.8,145.6C485.9,145.5 487.9,142.6 489.9,142.6C491.9,142.6 493.9,145.3 495.9,145.6C497.9,145.9 499.9,143.9 502.0,144.5C504.1,145.1 506.2,148.9 508.3,148.9C510.4,148.9 513.3,145.2 514.3,144.5" fill="none" stroke="#fdae78" stroke-width="2.0" stroke-linejoin="round" stroke-linecap="round" stroke-dasharray="11 7"/>
<line x1="84.30" x2="84.30" y1="336.2" y2="340.9" stroke="#c4c4c4" stroke-width="1.6"/>
<text x="94.30" y="355.30" text-anchor="end" font-size="20" transform="rotate(-45 94.30 355.30)">2019 / 11 / 24</text>
<line x1="170.44" x2="170.44" y1="336.2" y2="340.9" stroke="#c4c4c4" stroke-width="1.6"/>
<text x="180.44" y="355.30" text-anchor="end" font-size="20" transform="rotate(-45 180.44 355.30)">2019 / 12 / 01</text>
<line x1="256.57" x2="256.57" y1="336.2" y2="340.9" stroke="#c4c4c4" stroke-width="1.6"/>
<text x="266.57" y="355.30" text-anchor="end" font-size="20" transform="rotate(-45 266.57 355.30)">2019 / 12 / 08</text>
<line x1="342.70" x2="342.70" y1="336.2" y2="340.9" stroke="#c4c4c4" stroke-width="1.6"/>
<text x="352.70" y="355.30" text-anchor="end" font-size="20" transform="rotate(-45 352.70 355.30)">2019 / 12 / 15</text>
<line x1="428.84" x2="428.84" y1="336.2" y2="340.9" stroke="#c4c4c4" stroke-width="1.6"/>
<text x="438.84" y="355.30" text-anchor="end" font-size="20" transform="rotate(-45 438.84 355.30)">2019 / 12 / 22</text>
<line x1="514.98" x2="514.98" y1="336.2" y2="340.9" stroke="#c4c4c4" stroke-width="1.6"/>
<text x="524.98" y="355.30" text-anchor="end" font-size="20" transform="rotate(-45 524.98 355.30)">2019 / 12 / 29</text>
<text x="300" y="466.7" text-anchor="middle" font-size="24">Date</text>
<text x="0" y="0" text-anchor="middle" font-size="23.75" transform="translate(23.3 163.8) rotate(-90)">Temprature °C</text>
<line x1="567" x2="590.4" y1="61.00" y2="61.00" stroke="#fde5d3" stroke-width="2"/>
<text x="602.6" y="66.00" font-size="15" letter-spacing="0.2">Greenhouse</text>
<line x1="567" x2="590.4" y1="90.00" y2="90.00" stroke="#000000" stroke-width="2"/>
<text x="602.6" y="95.00" font-size="15" letter-spacing="0.2">L.Ctrl</text>
<line x1="567" x2="590.4" y1="119.00" y2="119.00" stroke="#d9650f" stroke-width="2"/>
<text x="602.6" y="124.00" font-size="15" letter-spacing="0.2">L.110cm</text>
<line x1="567" x2="590.4" y1="148.00" y2="148.00" stroke="#0d8373" stroke-width="2"/>
<text x="602.6" y="153.00" font-size="15" letter-spacing="0.2">L.030cm</text>
<line x1="567" x2="590.4" y1="177.00" y2="177.00" stroke="#fdae78" stroke-width="2"/>
<text x="602.6" y="182.00" font-size="15" letter-spacing="0.2">L.070cm</text>
<line x1="567" x2="590.4" y1="206.00" y2="206.00" stroke="#000000" stroke-width="2" stroke-dasharray="13 5"/>
<text x="602.6" y="211.00" font-size="15" letter-spacing="0.2">S.Ctrl</text>
<line x1="567" x2="590.4" y1="235.00" y2="235.00" stroke="#d9650f" stroke-width="2" stroke-dasharray="13 5"/>
<text x="602.6" y="240.00" font-size="15" letter-spacing="0.2">S.110cm</text>
<line x1="567" x2="590.4" y1="264.00" y2="264.00" stroke="#0d8373" stroke-width="2" stroke-dasharray="13 5"/>
<text x="602.6" y="269.00" font-size="15" letter-spacing="0.2">S.030cm</text>
<line x1="567" x2="590.4" y1="293.00" y2="293.00" stroke="#fdae78" stroke-width="2" stroke-dasharray="13 5"/>
<text x="602.6" y="298.00" font-size="15" letter-spacing="0.2">S.070cm</text>
</svg>
</body></html>
